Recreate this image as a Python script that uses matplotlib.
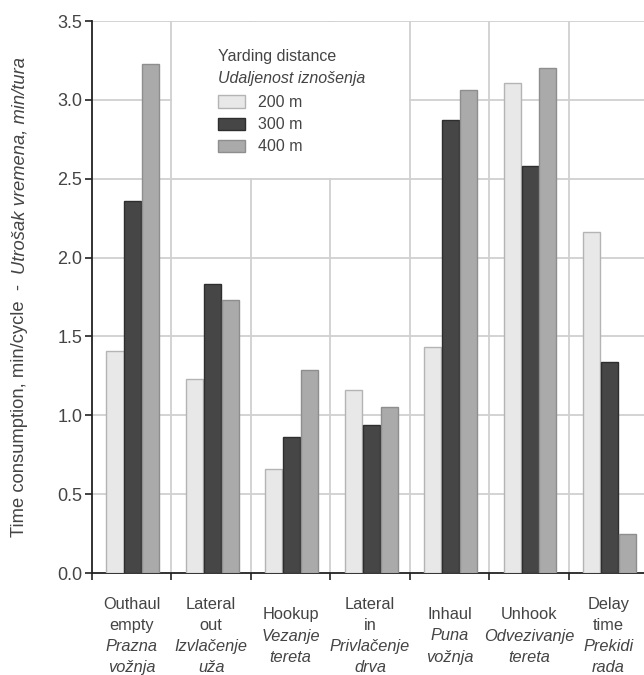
import matplotlib
matplotlib.use("Agg")
import matplotlib.pyplot as plt
from matplotlib.patches import Rectangle
import matplotlib.transforms as mtransforms
import numpy as np

# ---------------- data ----------------
cat_main = [["Outhaul", "empty"], ["Lateral", "out"], ["Hookup"], ["Lateral", "in"],
            ["Inhaul"], ["Unhook"], ["Delay", "time"]]
cat_local = [["Prazna", "vožnja"], ["Izvlačenje", "uža"], ["Vezanje", "tereta"],
             ["Privlačenje", "drva"], ["Puna", "vožnja"], ["Odvezivanje", "tereta"],
             ["Prekidi", "rada"]]
series_labels = ["200 m", "300 m", "400 m"]
v200 = [1.41, 1.23, 0.66, 1.16, 1.43, 3.11, 2.16]
v300 = [2.36, 1.83, 0.86, 0.94, 2.87, 2.58, 1.34]
v400 = [3.23, 1.73, 1.29, 1.05, 3.06, 3.20, 0.25]
yticks = [0.0, 0.5, 1.0, 1.5, 2.0, 2.5, 3.0, 3.5]
legend_title = "Yarding distance"
legend_title_local = "Udaljenost iznošenja"
ylabel_main = "Time consumption, min/cycle"
ylabel_local = "Utrošak vremena, min/tura"

# ---------------- style ----------------
plt.rcParams["font.family"] = ["Liberation Sans", "DejaVu Sans"]
TXT = "#444444"
FS_X = 11.8
FS_LEG = 11.5
FS_TICK = 13
FS_Y = 13.2
faces = ["#e8e8e8", "#464646", "#aaaaaa"]
edges = ["#b4b4b4", "#2e2e2e", "#8e8e8e"]
GRID = "#d0d0d0"

W, H = 644, 675
fig = plt.figure(figsize=(W / 100, H / 100), dpi=100)
ax_l, ax_r, ax_t, ax_b = 92, 648, 21, 573
ax = fig.add_axes([ax_l / W, 1 - ax_b / H, (ax_r - ax_l) / W, (ax_b - ax_t) / H])

n = len(v200)
x = np.arange(n)
bw = 0.215
offs = [-0.225, 0.0, 0.225]
for k, vals in enumerate([v200, v300, v400]):
    ax.bar(x + 0.515 + offs[k], vals, width=bw, color=faces[k], edgecolor=edges[k],
           linewidth=1.0, zorder=3, label=series_labels[k])

ax.set_xlim(0, n)
ax.set_ylim(0, 3.5)
ax.set_yticks(yticks)
ax.set_yticklabels([f"{t:.1f}" for t in yticks])
ax.set_xticks(np.arange(n + 1))
ax.set_xticklabels([])
ax.tick_params(axis="both", direction="out", length=5, width=1.2, color="#222222",
               labelsize=FS_TICK, labelcolor=TXT)
ax.tick_params(axis="y", pad=2)

for s in ["top", "right"]:
    ax.spines[s].set_visible(False)
for s in ["left", "bottom"]:
    ax.spines[s].set_linewidth(1.3)
    ax.spines[s].set_color("#222222")

# grid
for t in yticks[1:]:
    ax.axhline(t, color=GRID, lw=1.3, zorder=0)
for i in range(1, n):
    ax.axvline(i, color=GRID, lw=1.3, zorder=0)

# white legend panel covering grid between groups 1..4 above 2.5
ax.add_patch(Rectangle((1.012, 2.506), 2.976, 0.988, facecolor="white", edgecolor="none",
                       zorder=1))

# legend
tf = fig.transFigure
fig.text(218 / W, 1 - 57 / H, legend_title, fontsize=FS_LEG, color=TXT, va="center", ha="left")
fig.text(218 / W, 1 - 79 / H, legend_title_local, fontsize=FS_LEG, color=TXT, va="center",
         ha="left", style="italic")
leg = ax.legend(loc="upper left", bbox_to_anchor=(218 / W, 1 - 95 / H), bbox_transform=tf,
                frameon=False, fontsize=FS_LEG, handlelength=1.69, handleheight=0.8,
                handletextpad=0.8, labelspacing=0.45, borderpad=0, borderaxespad=0)
for t in leg.get_texts():
    t.set_color(TXT)

# x category labels
bt = mtransforms.blended_transform_factory(ax.transData, tf)
LS = 21.2
for i in range(n):
    lines = [(s, "normal") for s in cat_main[i]] + [(s, "italic") for s in cat_local[i]]
    m = len(lines)
    for j, (s, st) in enumerate(lines):
        ypx = 636 + (j - (m - 1) / 2) * LS
        ax.text(i + 0.5, 1 - ypx / H, s, transform=bt, ha="center", va="center",
                fontsize=FS_X, color=TXT, style=st)

# y label in two styles, centred on the axes
t1 = fig.text(20 / W, 0.5, ylabel_main + "  -  ", rotation=90, ha="center",
              va="bottom", fontsize=FS_Y, color=TXT)
t2 = fig.text(20 / W, 0.5, ylabel_local, rotation=90, ha="center",
              va="bottom", fontsize=FS_Y, color=TXT, style="italic")
fig.canvas.draw()
h1 = t1.get_window_extent().height
h2 = t2.get_window_extent().height
centre = H - (ax_t + ax_b) / 2
y0 = centre - (h1 + h2) / 2
t1.set_y(y0 / H)
t2.set_y((y0 + h1) / H)

fig.savefig("out.png", dpi=100)
